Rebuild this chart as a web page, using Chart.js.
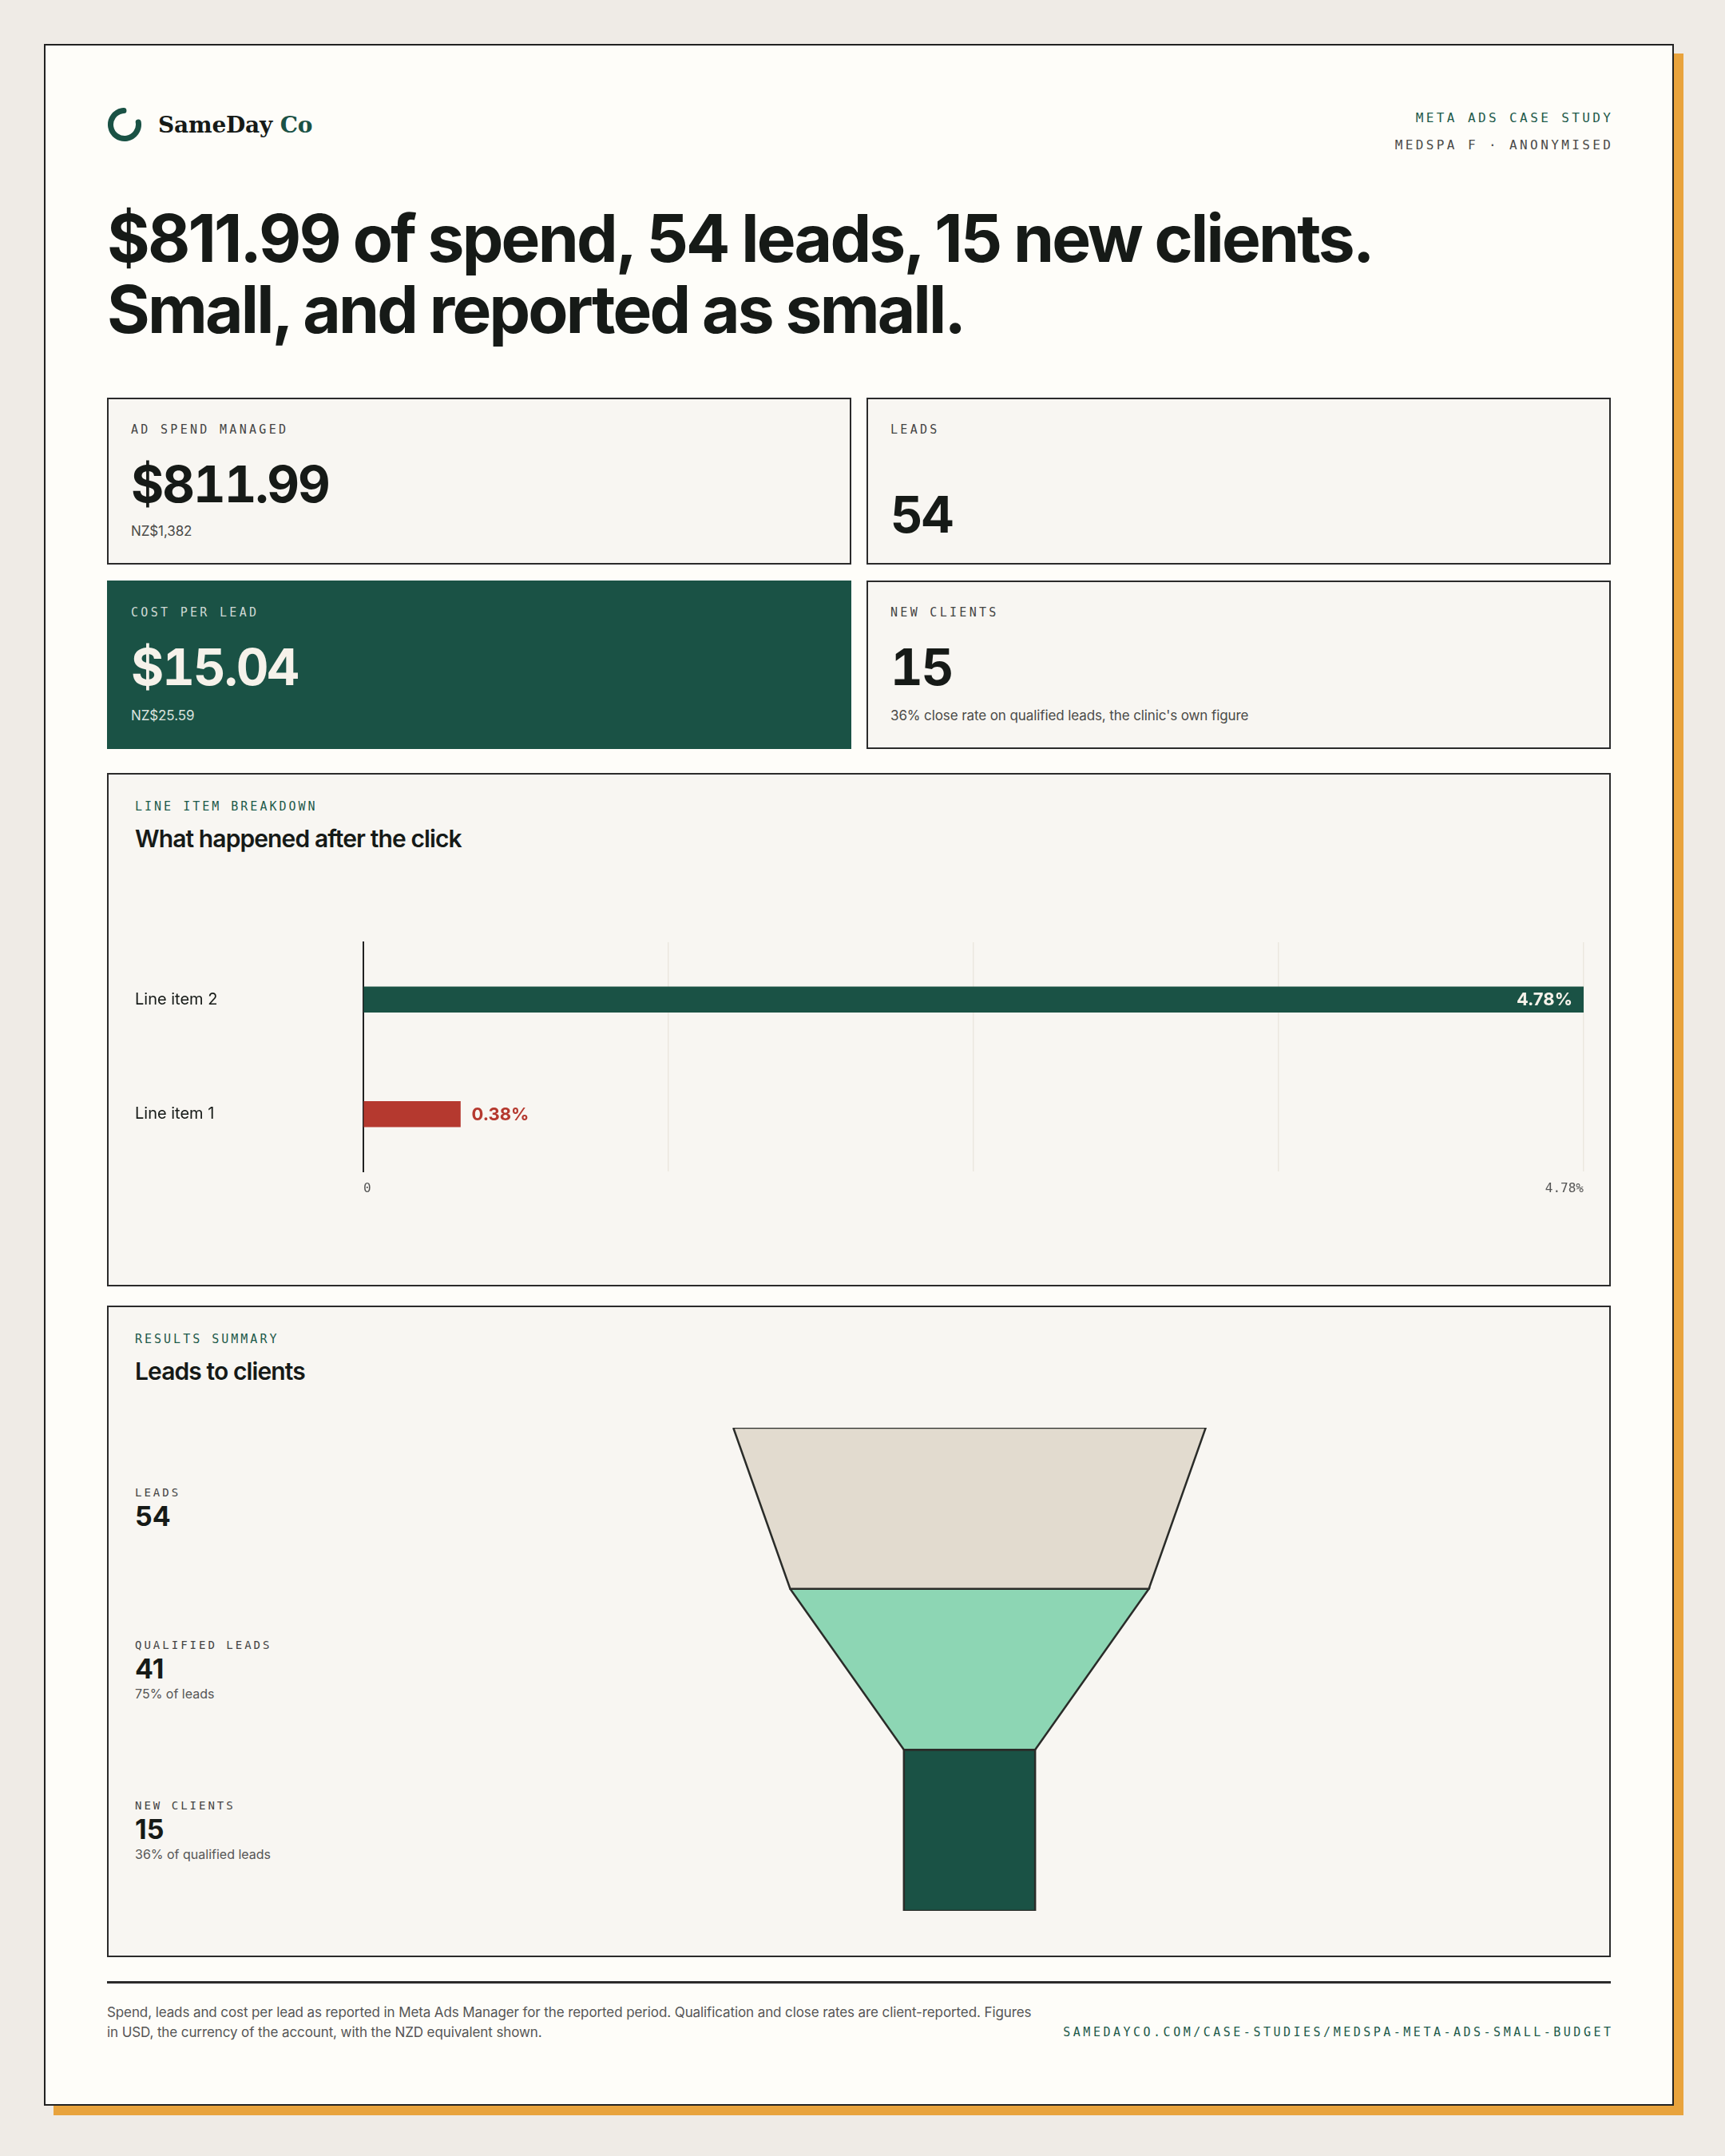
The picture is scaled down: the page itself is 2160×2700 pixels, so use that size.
<!DOCTYPE html>
<html>
<head>
<meta charset="utf-8">
<title>SameDay Co — Meta Ads case study</title>
<script src="https://cdn.jsdelivr.net/npm/chart.js@4.4.1/dist/chart.umd.min.js"></script>
<style>
  * { box-sizing: border-box; margin: 0; padding: 0; }
  html, body { width: 2160px; height: 2700px; background: #efebe6; font-family: Inter, "Noto Sans", sans-serif; color: #161a17; }
  .sheet { position: absolute; left: 55px; top: 55px; width: 2041px; height: 2582px; background: #fefdf9; border: 2px solid #222; box-shadow: 12px 12px 0 #e8a33d; }
  .mono { font-family: "DejaVu Sans Mono", monospace; text-transform: uppercase; }

  .logo { position: absolute; left: 77px; top: 77px; display: flex; align-items: center; gap: 20px; }
  .logo-text { font-family: "DejaVu Serif", serif; font-weight: 700; font-size: 28px; letter-spacing: -0.2px; }
  .logo-text span { color: #1a5245; }
  .meta { position: absolute; right: 77px; top: 74px; text-align: right; font-size: 16px; line-height: 34px; letter-spacing: 3.4px; margin-right: -3.4px; color: #4a4a48; }
  .meta .green { color: #1d5a4a; }

  .headline { position: absolute; left: 77px; top: 197px; font-size: 82px; line-height: 89px; font-weight: 700; letter-spacing: -2.8px; }

  .stat { position: absolute; width: 932px; background: #f8f6f2; border: 2px solid #2b2b2b; padding: 28px 28px 29px; display: flex; flex-direction: column; }
  .stat-label { font-size: 15px; line-height: 20px; letter-spacing: 3.3px; color: #444; }
  .stat-num { font-size: 63px; line-height: 64px; font-weight: 700; letter-spacing: -2px; margin-top: 26px; font-variant-numeric: tabular-nums; }
  .stat-sub { font-size: 17px; line-height: 22px; color: #4a4a48; margin-top: auto; letter-spacing: -0.1px; }
  .stat.nosub .stat-num { margin-top: auto; }
  .stat.dark { background: #1a5245; border-color: #1a5245; }
  .stat.dark .stat-label { color: #cfd9d4; }
  .stat.dark .stat-num { color: #f6f2ea; }
  .stat.dark .stat-sub { color: #dbe3df; }

  .panel { position: absolute; left: 77px; width: 1883px; background: #f8f6f2; border: 2px solid #2b2b2b; }
  .eyebrow { position: absolute; left: 33px; top: 30px; font-size: 15px; line-height: 20px; letter-spacing: 3px; color: #1d5a4a; }
  .panel-title { position: absolute; left: 33px; top: 62px; font-size: 30px; line-height: 36px; font-weight: 600; letter-spacing: -0.9px; }
  .chart-box { position: absolute; }

  .stages { position: absolute; left: 33px; top: 151px; height: 605px; width: 300px; display: flex; flex-direction: column; }
  .stage { flex: 1; display: flex; align-items: center; }
  .stage-label { font-size: 14px; line-height: 20px; letter-spacing: 3px; color: #444; }
  .stage-num { font-size: 34px; line-height: 40px; font-weight: 700; }
  .stage-note { font-size: 16px; line-height: 22px; color: #555; }

  .footer { position: absolute; left: 77px; top: 2424px; width: 1883px; border-top: 3px solid #2b2b2b; padding-top: 24px; display: flex; justify-content: space-between; align-items: flex-end; }
  .footnote { width: 1165px; font-size: 17px; line-height: 25px; color: #555; letter-spacing: -0.1px; }
  .url { font-size: 15px; line-height: 25px; letter-spacing: 3.5px; margin-right: -3.5px; color: #1d5a4a; }
</style>
</head>
<body>
<div class="sheet">
  <div class="logo">
    <svg width="44" height="44" viewBox="0 0 44 44">
      <circle cx="22" cy="22" r="17.5" fill="none" stroke="#1a5245" stroke-width="7" stroke-linecap="round" stroke-dasharray="84 200" transform="rotate(-10 22 22)"/>
    </svg>
    <div class="logo-text">SameDay <span>Co</span></div>
  </div>
  <div class="meta mono">
    <div class="green">Meta Ads case study</div>
    <div>MedSpa F · Anonymised</div>
  </div>

  <div class="headline">$811.99 of spend, 54 leads, 15 new clients.<br>Small, and reported as small.</div>

  <div class="stat" style="left:77px;top:441px;height:209px">
    <div class="stat-label mono">Ad spend managed</div>
    <div class="stat-num">$811.99</div>
    <div class="stat-sub">NZ$1,382</div>
  </div>
  <div class="stat nosub" style="left:1028px;top:441px;height:209px">
    <div class="stat-label mono">Leads</div>
    <div class="stat-num">54</div>
  </div>
  <div class="stat dark" style="left:77px;top:670px;height:211px">
    <div class="stat-label mono">Cost per lead</div>
    <div class="stat-num">$15.04</div>
    <div class="stat-sub">NZ$25.59</div>
  </div>
  <div class="stat" style="left:1028px;top:670px;height:211px">
    <div class="stat-label mono">New clients</div>
    <div class="stat-num">15</div>
    <div class="stat-sub">36% close rate on qualified leads, the clinic's own figure</div>
  </div>

  <div class="panel" style="top:911px;height:643px">
    <div class="eyebrow mono">Line item breakdown</div>
    <div class="panel-title">What happened after the click</div>
    <div class="chart-box" style="left:33px;top:188px;width:1826px;height:349px">
      <canvas id="lineItemChart"></canvas>
    </div>
  </div>

  <div class="panel" style="top:1578px;height:816px">
    <div class="eyebrow mono">Results summary</div>
    <div class="panel-title">Leads to clients</div>
    <div class="stages" id="stageList"></div>
    <div class="chart-box" style="left:309px;top:147px;width:1538px;height:613px">
      <canvas id="funnelChart"></canvas>
    </div>
  </div>

  <div class="footer">
    <div class="footnote">Spend, leads and cost per lead as reported in Meta Ads Manager for the reported period. Qualification and close rates are client-reported. Figures in USD, the currency of the account, with the NZD equivalent shown.</div>
    <div class="url mono">samedayco.com/case-studies/medspa-meta-ads-small-budget</div>
  </div>
</div>

<script>
  // line item breakdown
  const lineItems = ["Line item 2", "Line item 1"];
  const lineItemRates = [4.78, 0.38];
  const lineItemColors = ["#1a5245", "#b5392f"];
  const rateTickLabels = ["0", "4.78%"];
  const rateMax = 4.78;

  // funnel
  const stageNames = ["Leads", "Qualified leads", "New clients"];
  const stageCounts = [54, 41, 15];
  const stageNotes = ["", "75% of leads", "36% of qualified leads"];
  const stageColors = ["#e2dbcf", "#8dd6b4", "#1a5245"];

  document.getElementById("stageList").innerHTML = stageNames.map((name, i) => `
    <div class="stage"><div>
      <div class="stage-label mono">${name}</div>
      <div class="stage-num">${stageCounts[i]}</div>
      ${stageNotes[i] ? `<div class="stage-note">${stageNotes[i]}</div>` : ""}
    </div></div>`).join("");

  // value labels at the end of each bar: inside if it fits, else just past it
  const barValueLabels = {
    id: "barValueLabels",
    afterDatasetsDraw(chart) {
      const ctx = chart.ctx;
      const meta = chart.getDatasetMeta(0);
      ctx.save();
      ctx.font = "700 22px Inter";
      ctx.textBaseline = "middle";
      meta.data.forEach((bar, i) => {
        const text = lineItemRates[i].toFixed(2) + "%";
        if (bar.x - bar.base > 200) {
          ctx.fillStyle = "#f6f2ea";
          ctx.textAlign = "right";
          ctx.fillText(text, bar.x - 14, bar.y + 1);
        } else {
          ctx.fillStyle = lineItemColors[i];
          ctx.textAlign = "left";
          ctx.fillText(text, bar.x + 14, bar.y + 1);
        }
      });
      ctx.restore();
    }
  };

  new Chart(document.getElementById("lineItemChart"), {
    type: "bar",
    data: {
      labels: lineItems,
      datasets: [{ data: lineItemRates, backgroundColor: lineItemColors, barThickness: 32, borderWidth: 0 }]
    },
    options: {
      indexAxis: "y",
      responsive: true,
      maintainAspectRatio: false,
      animation: false,
      layout: { padding: { top: 9, right: 0, bottom: 0, left: 0 } },
      plugins: { legend: { display: false }, tooltip: { enabled: false } },
      scales: {
        x: {
          min: 0,
          max: rateMax,
          afterBuildTicks: s => { s.ticks = [0, 1, 2, 3, 4].map(i => ({ value: rateMax * i / 4 })); },
          afterFit: s => { s.height = 40; },
          grid: { color: "#ebe7df", lineWidth: 1.5, drawTicks: false },
          border: { display: false },
          ticks: {
            align: "inner",
            padding: 12,
            autoSkip: false,
            maxRotation: 0,
            color: "#555",
            font: { family: "DejaVu Sans Mono", size: 16 },
            callback: (v, i, t) => i === 0 ? rateTickLabels[0] : (i === t.length - 1 ? rateTickLabels[1] : "")
          }
        },
        y: {
          afterFit: s => { s.width = 286; },
          grid: { display: false },
          border: { display: true, color: "#222", width: 2 },
          ticks: { crossAlign: "far", color: "#161a17", font: { family: "Inter", size: 20 }, padding: 10 }
        }
      }
    },
    plugins: [barValueLabels]
  });

  // each stage is a closed shape: its width at the top is its own count,
  // at the bottom the next stage's count (the last stage is straight)
  const funnelSpan = stageCounts[0] * 1.3;
  const funnelSets = stageCounts.map((count, i) => {
    const next = i < stageCounts.length - 1 ? stageCounts[i + 1] : count;
    return {
      label: stageNames[i],
      data: [
        { x: -count / 2, y: i }, { x: count / 2, y: i },
        { x: next / 2, y: i + 1 }, { x: -next / 2, y: i + 1 },
        { x: -count / 2, y: i }
      ],
      showLine: true,
      fill: "shape",
      backgroundColor: stageColors[i],
      borderColor: "#2a2c29",
      borderWidth: 2.5,
      borderJoinStyle: "miter",
      pointRadius: 0,
      tension: 0
    };
  });

  new Chart(document.getElementById("funnelChart"), {
    type: "scatter",
    data: { datasets: funnelSets },
    options: {
      responsive: true,
      maintainAspectRatio: false,
      animation: false,
      layout: { padding: { top: 4, bottom: 4, left: 0, right: 0 } },
      plugins: { legend: { display: false }, tooltip: { enabled: false } },
      scales: {
        x: { display: false, min: -funnelSpan, max: funnelSpan },
        y: { display: false, min: 0, max: stageCounts.length, reverse: true }
      }
    }
  });
</script>
</body>
</html>
